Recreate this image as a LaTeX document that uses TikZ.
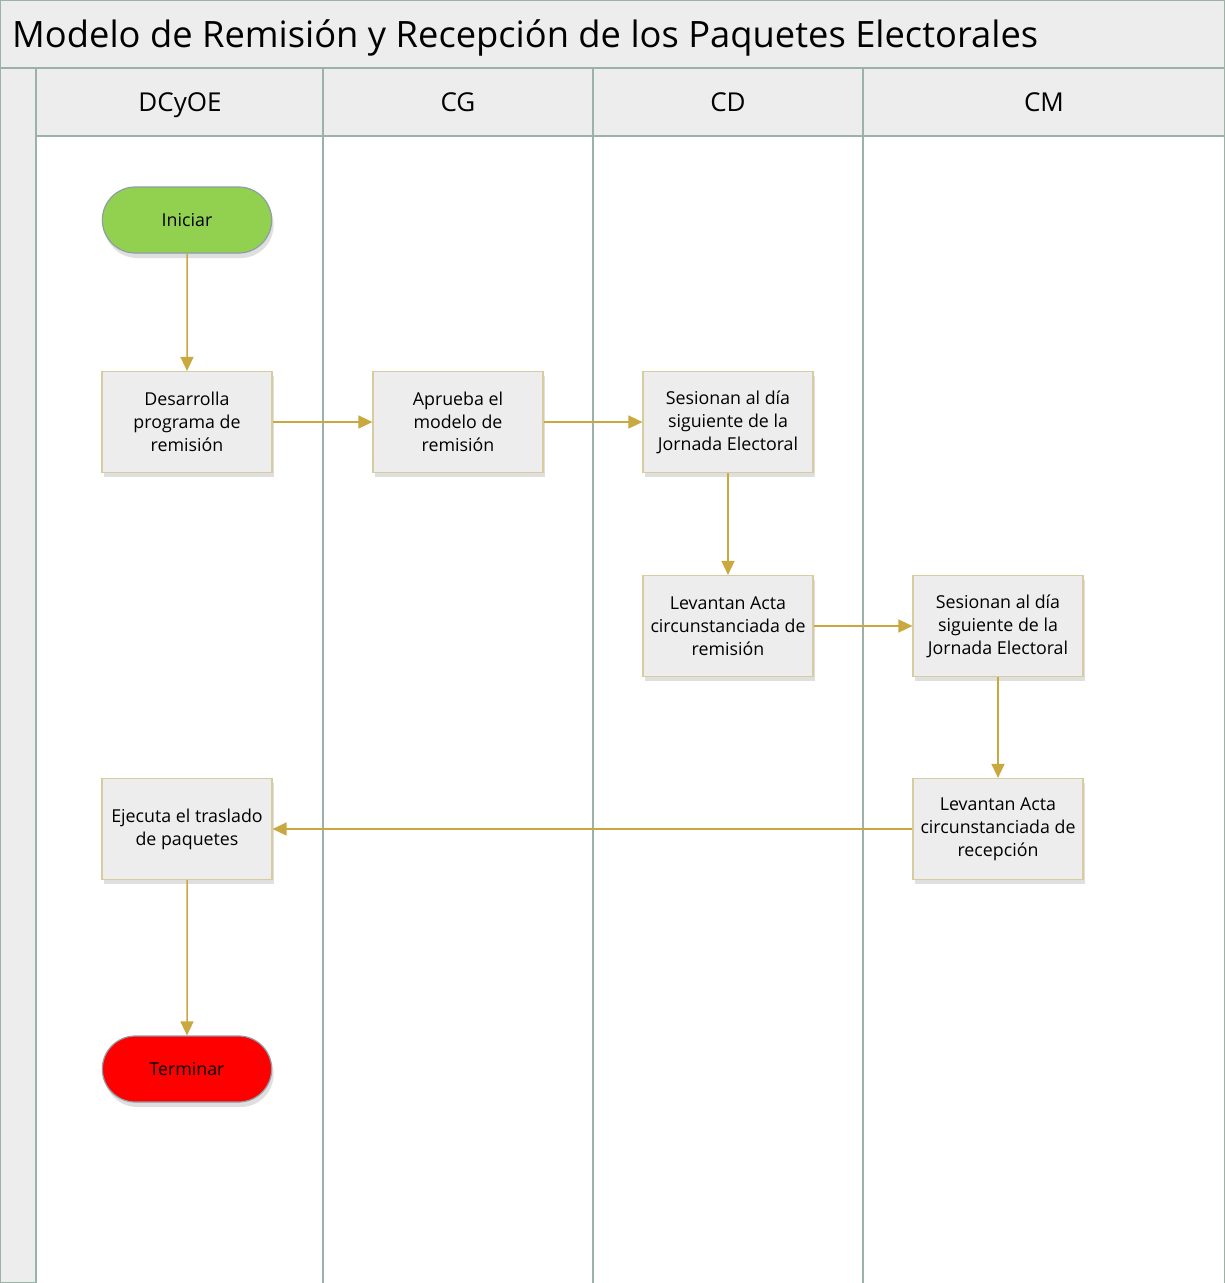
\documentclass[tikz,border=0pt]{standalone}
\usepackage{fontspec}
\setmainfont{Open Sans}
\usetikzlibrary{positioning,shadows,arrows.meta,shapes.misc}
\definecolor{lanegray}{HTML}{EDEDED}
\definecolor{laneline}{HTML}{9CB2A9}
\definecolor{flowgold}{HTML}{C9A93F}
\definecolor{boxedge}{HTML}{D6CCA0}
\definecolor{pilledge}{HTML}{8E9EA6}
\definecolor{startgreen}{HTML}{92D050}
\definecolor{stopred}{HTML}{FF0000}
\tikzset{
  lanefill/.style = {fill=lanegray, draw=laneline, line width=1.5pt},
  lanehead/.style = {font=\fontsize{26}{30}\selectfont, anchor=base},
  stepbox/.style = {rectangle, draw=boxedge, line width=1.2pt, fill=lanegray,
    minimum width=170pt, minimum height=101pt, align=center, inner sep=2pt,
    font=\fontsize{17.8}{23}\selectfont,
    drop shadow={opacity=0.25, shadow xshift=2pt, shadow yshift=-4pt}},% caja de actividad
  termbox/.style = {rounded rectangle, draw=pilledge, line width=1.2pt,
    minimum width=176pt, minimum height=66pt, font=\fontsize{17.8}{23}\selectfont,
    drop shadow={opacity=0.25, shadow xshift=2pt, shadow yshift=-5pt}},% inicio / fin
  flow/.style = {draw=flowgold, line width=1.5pt,
    -{Triangle[length=14pt,width=13pt]}}
}
\begin{document}
\begin{tikzpicture}[x=1pt,y=-1pt]
\useasboundingbox (0,0) rectangle (1225,1283);
% carriles
\fill[white] (0,0) rectangle (1225,1283);
\draw[lanefill] (0,0) rectangle (1225,68);
\draw[lanefill] (0,68) rectangle (36,1283);
\draw[lanefill] (36,68) rectangle (1225,136);
\foreach \x in {323,593,863}
  \draw[laneline, line width=1.5pt] (\x,68) -- (\x,1283);
\draw[laneline, line width=1.5pt] (1225,0) -- (1225,1283);
\node[anchor=base west, font=\fontsize{36.3}{40}\selectfont, inner sep=0pt] (titulo) at (12,47)
  {Modelo de Remisión y Recepción de los Paquetes Electorales};
\node[lanehead] (hdcyoe) at (180,111) {DCyOE};
\node[lanehead] (hcg) at (458,111) {CG};
\node[lanehead] (hcd) at (728,111) {CD};
\node[lanehead] (hcm) at (1044,111) {CM};

% nodos del flujo
\node[termbox, fill=startgreen] (iniciar) at (187,220) {Iniciar};
\node[stepbox] (desarrolla) at (187,422) {Desarrolla\\programa de\\remisión};
\node[stepbox, right=99.8pt of desarrolla] (aprueba) {Aprueba el\\modelo de\\remisión};
\node[stepbox, right=98.8pt of aprueba] (sesioncd) {Sesionan al día\\siguiente de la\\Jornada Electoral};
\node[stepbox, below=101.8pt of sesioncd] (actacd) {Levantan Acta\\circunstanciada de\\remisión};
\node[stepbox, right=98.8pt of actacd] (sesioncm) {Sesionan al día\\siguiente de la\\Jornada Electoral};
\node[stepbox, below=100.8pt of sesioncm] (actacm) {Levantan Acta\\circunstanciada de\\recepción};
\node[stepbox] (ejecuta) at (desarrolla |- actacm) {Ejecuta el traslado\\de paquetes};
\node[termbox, fill=stopred] (terminar) at (187,1069) {Terminar};

% conectores
\draw[flow] (iniciar) -- (desarrolla);
\draw[flow] (desarrolla) -- (aprueba);
\draw[flow] (aprueba) -- (sesioncd);
\draw[flow] (sesioncd) -- (actacd);
\draw[flow] (actacd) -- (sesioncm);
\draw[flow] (sesioncm) -- (actacm);
\draw[flow] (actacm) -- (ejecuta);
\draw[flow] (ejecuta) -- (terminar);
\end{tikzpicture}
\end{document}
